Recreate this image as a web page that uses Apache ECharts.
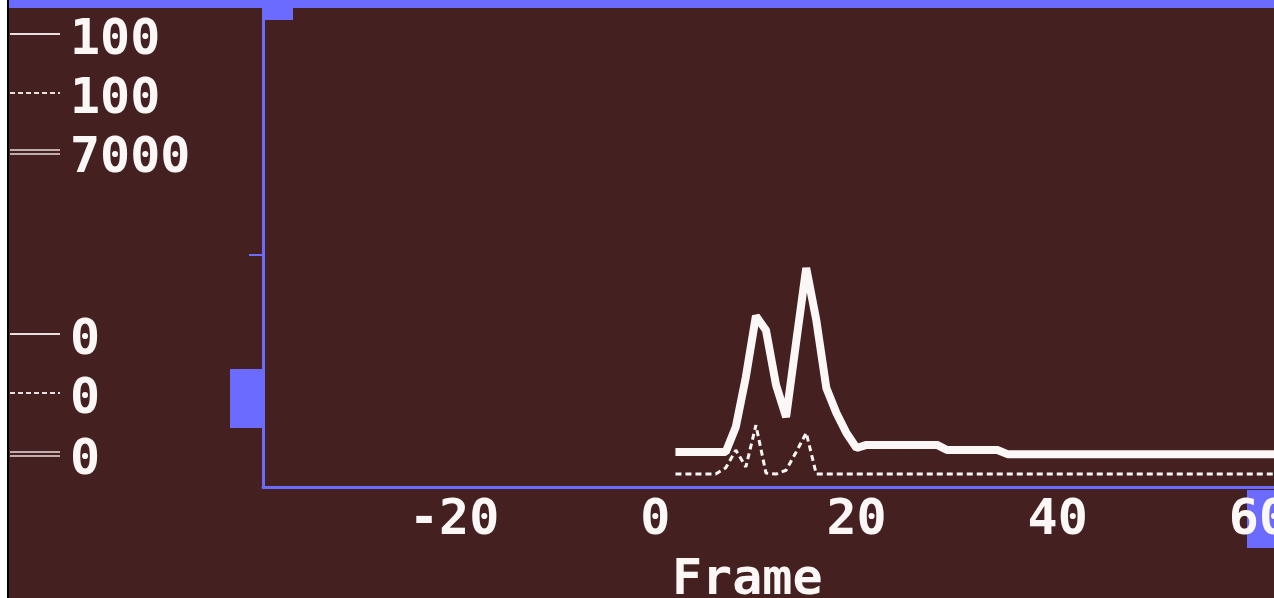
<!DOCTYPE html>
<html>
<head>
<meta charset="utf-8">
<script src="https://cdn.jsdelivr.net/npm/echarts@6/dist/echarts.min.js"></script>
<style>
  html, body { margin: 0; padding: 0; background: #452020; }
  #chart { width: 1274px; height: 598px; }
</style>
</head>
<body>
<div id="chart"></div>
<script>
// data
var xTicks = [-20, 0, 20, 40, 60];

// thick trace (scale 0..7000)
var thickFrames = [2, 7, 8, 9, 10, 11, 12, 13, 14, 15, 16, 17, 18, 19, 20, 21, 28, 29, 34, 35, 62];
var thickValues = [510, 510, 877, 1608, 2500, 2290, 1490, 1023, 2120, 3200, 2440, 1447, 1081, 789, 570, 615, 615, 540, 540, 480, 480];

// dotted trace (scale 0..100)
var dotFrames = [2, 6, 7, 8, 9, 10, 11, 12, 13, 14, 15, 16, 62];
var dotValues = [2.7, 2.7, 4, 7.7, 4.2, 12.9, 2.9, 2.7, 3.5, 7.3, 11.3, 2.7, 2.7];

// legend labels: top value / bottom value
var scaleTop = ['100', '100', '7000'];
var scaleBottom = ['0', '0', '0'];

var BG = '#452020';
var BLUE = '#6b6bff';
var WHITE = '#fbf7f7';
var FONT = '"DejaVu Sans Mono", monospace';

function pairs(xs, ys) {
    var out = [];
    for (var i = 0; i < xs.length; i++) out.push([xs[i], ys[i]]);
    return out;
}

// legend samples on the left
var legendGraphics = [];
var topY = [37, 96, 155];
var botY = [337, 396, 457];
function sample(y, kind) {
    var g = [];
    if (kind === 'double') {
        g.push({ type: 'line', shape: { x1: 10, y1: y - 2, x2: 60, y2: y - 2 }, style: { stroke: '#eadede', lineWidth: 1.5 } });
        g.push({ type: 'line', shape: { x1: 10, y1: y + 2, x2: 60, y2: y + 2 }, style: { stroke: '#eadede', lineWidth: 1.5 } });
    } else {
        g.push({ type: 'line', shape: { x1: 10, y1: y, x2: 60, y2: y },
            style: { stroke: '#eadede', lineWidth: 2, lineDash: kind === 'dot' ? [5, 3] : null } });
    }
    return g;
}
var kinds = ['solid', 'dot', 'double'];
for (var i = 0; i < 3; i++) {
    legendGraphics = legendGraphics.concat(sample(topY[i] - 3, kinds[i]));
    legendGraphics = legendGraphics.concat(sample(botY[i] - 3, kinds[i]));
    legendGraphics.push({ type: 'text', left: 70, top: topY[i] - 21,
        style: { text: scaleTop[i], fill: WHITE, font: 'bold 50px ' + FONT } });
    legendGraphics.push({ type: 'text', left: 70, top: botY[i] - 21,
        style: { text: scaleBottom[i], fill: WHITE, font: 'bold 50px ' + FONT } });
}

var option = {
    backgroundColor: BG,
    animation: false,
    grid: { left: 263, right: 0, top: 8, bottom: 111, outerBoundsMode: 'none', containLabel: false },
    xAxis: {
        type: 'value',
        min: -39,
        max: 61.5,
        z: 5,
        axisLine: { show: true, onZero: false, lineStyle: { color: BLUE, width: 3 } },
        axisTick: { show: false },
        splitLine: { show: false },
        axisLabel: {
            customValues: xTicks,
            showMinLabel: true,
            showMaxLabel: true,
            color: WHITE,
            fontFamily: FONT,
            fontWeight: 'bold',
            fontSize: 50,
            margin: 9
        }
    },
    yAxis: [{
        type: 'value',
        min: 0,
        max: 7000,
        axisLine: { show: true, onZero: false, lineStyle: { color: BLUE, width: 3 } },
        axisTick: { show: false },
        axisLabel: { show: false },
        splitLine: { show: false }
    }, {
        type: 'value',
        min: 0,
        max: 100,
        position: 'left',
        axisLine: { show: false, onZero: false },
        axisTick: { show: false },
        axisLabel: { show: false },
        splitLine: { show: false }
    }],
    series: [{
        type: 'line',
        yAxisIndex: 0,
        showSymbol: false,
        lineStyle: { color: WHITE, width: 8 },
        data: pairs(thickFrames, thickValues)
    }, {
        type: 'line',
        yAxisIndex: 1,
        showSymbol: false,
        lineStyle: { color: WHITE, width: 3, type: [6, 4] },
        data: pairs(dotFrames, dotValues)
    }],
    graphic: [
        { type: 'rect', shape: { x: 0, y: 0, width: 7, height: 598 }, style: { fill: '#ffffff' } },
        { type: 'rect', shape: { x: 7, y: 0, width: 2, height: 598 }, style: { fill: '#000000' } },
        { type: 'rect', shape: { x: 9, y: 0, width: 1265, height: 8 }, style: { fill: BLUE } },
        { type: 'rect', shape: { x: 262, y: 0, width: 31, height: 20 }, style: { fill: BLUE } },
        { type: 'rect', shape: { x: 249, y: 254, width: 14, height: 2 }, style: { fill: BLUE } },
        { type: 'rect', shape: { x: 230, y: 369, width: 33, height: 59 }, style: { fill: BLUE } },
        { type: 'rect', shape: { x: 1247, y: 490, width: 27, height: 58 }, style: { fill: BLUE } },
        { type: 'text', left: 672, top: 556,
            style: { text: 'Frame', fill: WHITE, font: 'bold 50px ' + FONT } }
    ].concat(legendGraphics)
};

var chart = echarts.init(document.getElementById('chart'));
chart.setOption(option);
</script>
</body>
</html>
